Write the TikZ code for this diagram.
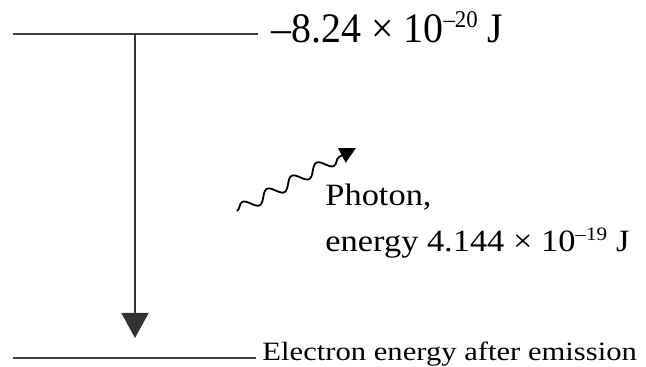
\documentclass[tikz,border=0pt]{standalone}
\usepackage{fontspec}
\setmainfont{Liberation Serif}
\usetikzlibrary{arrows.meta,decorations.pathmorphing}
\begin{document}
\begin{tikzpicture}[
    x=0.5pt, y=-0.5pt,
    level/.style={line width=0.8pt, black!75},
    bigtext/.style={font=\fontsize{21}{24}\selectfont, inner sep=0pt, anchor=base west, xscale=0.95},
    photontext/.style={font=\fontsize{15.5}{23}\selectfont, inner sep=0pt, anchor=base west, align=left, xscale=1.11},
    smalltext/.style={font=\fontsize{13.2}{16}\selectfont, inner sep=0pt, anchor=base west, xscale=1.16},
    droparrow/.style={-{Triangle[length=12.5pt, width=13.5pt]}, line width=0.8pt, black!80},
    photonarrow/.style={-{Triangle[length=8pt, width=8pt]}, line width=0.9pt,
        decorate, decoration={snake, segment length=14pt, amplitude=2.8pt, post length=8pt}},
]
\useasboundingbox (0,0) rectangle (646,367);

% energy levels
\coordinate (upper-l) at (13,34);
\coordinate (upper-r) at (258,34);
\coordinate (lower-l) at (13,358);
\coordinate (lower-r) at (256,358);
\draw[level] (upper-l) -- (upper-r);
\draw[level] (lower-l) -- (lower-r);

\node[bigtext] (upperlab) at (271,43)
    {\textendash8.24 × 10\raisebox{7.5pt}{\fontsize{12}{12}\selectfont\textendash20}\hspace{5pt}J};
\node[smalltext] (lowerlab) at (262,360) {Electron energy after emission};

% transition
\coordinate (drop-start) at (135,34);
\coordinate (drop-end) at (135,338);
\draw[droparrow] (drop-start) -- (drop-end);

% photon
\coordinate (wave-start) at (237,211);
\coordinate (wave-end) at (356,148);
\draw[photonarrow] (wave-start) -- (wave-end);
\node[photontext] (photonlab) at (325,252)
    {Photon,\\energy 4.144 × 10\raisebox{5.5pt}{\fontsize{9.5}{9.5}\selectfont\textendash19}\hspace{4pt}J};
\end{tikzpicture}
\end{document}
